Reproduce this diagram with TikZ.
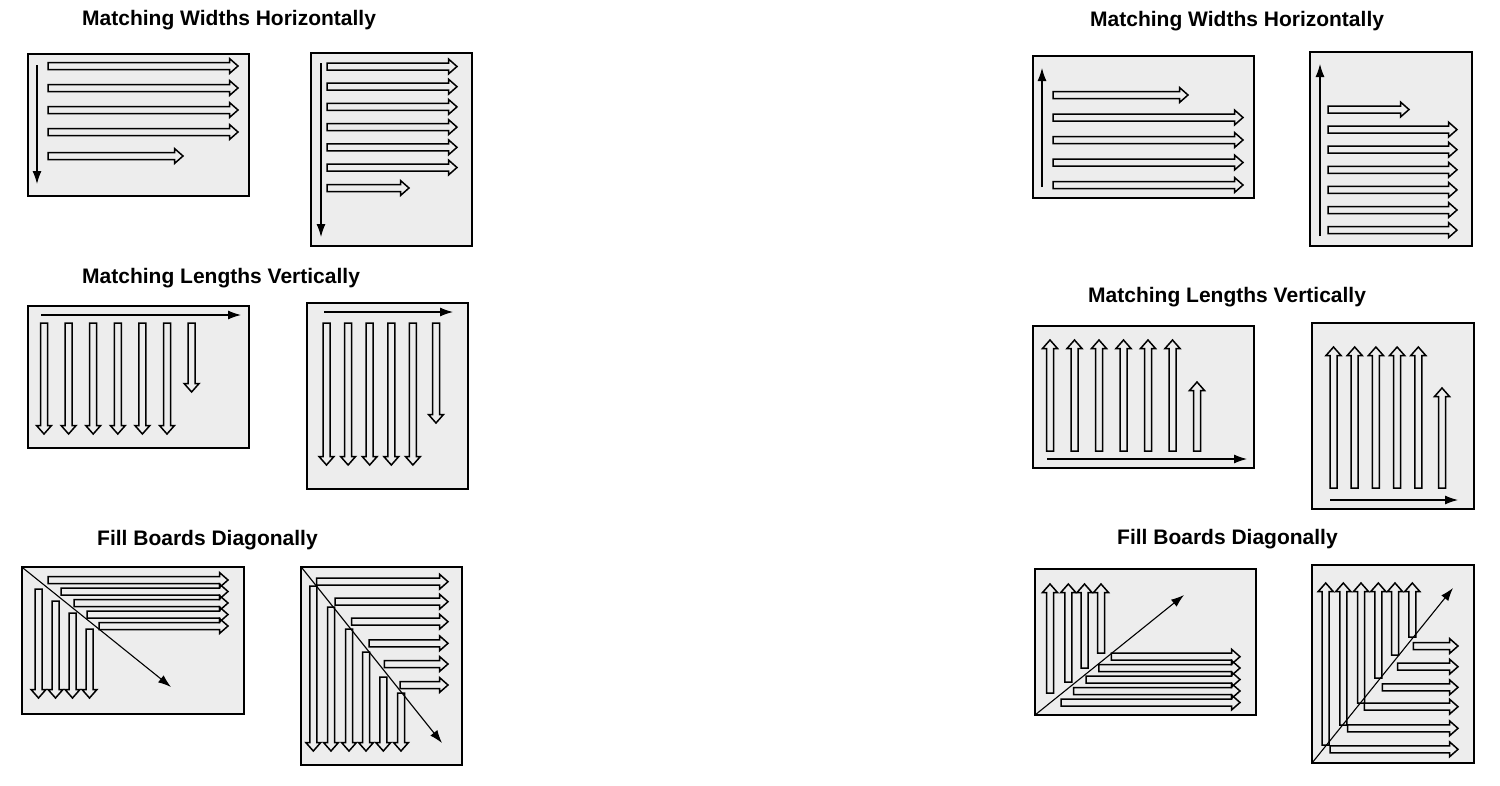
\documentclass[tikz,border=0pt]{standalone}
\usepackage{fontspec}
\setmainfont{Liberation Sans}
\usepackage{tikz}
\usetikzlibrary{arrows.meta}
\definecolor{boardbg}{gray}{0.93}
\tikzset{
  frame/.style={draw=black,line width=1.3pt,fill=boardbg},
  board/.style={draw=black,line width=1.5pt,line join=miter},
  layout/.style={draw=black,line width=1.1pt,-{Latex[length=13pt,width=9pt]}},
  title/.style={font=\bfseries\fontsize{21}{25}\selectfont,anchor=west,inner sep=0pt}
}
% boards: start/center, row/column, tip
\newcommand\boardR[3]{\draw[board] (#1,#2-3.5) -- (#3-8.5,#2-3.5) -- (#3-8.5,#2-7.5) -- (#3,#2) -- (#3-8.5,#2+7.5) -- (#3-8.5,#2+3.5) -- (#1,#2+3.5) -- cycle;}
\newcommand\boardD[3]{\draw[board] (#1-3.5,#2) -- (#1-3.5,#3-8.5) -- (#1-7.5,#3-8.5) -- (#1,#3) -- (#1+7.5,#3-8.5) -- (#1+3.5,#3-8.5) -- (#1+3.5,#2) -- cycle;}
\newcommand\boardU[3]{\draw[board] (#1-3.5,#2) -- (#1-3.5,#3+8.5) -- (#1-7.5,#3+8.5) -- (#1,#3) -- (#1+7.5,#3+8.5) -- (#1+3.5,#3+8.5) -- (#1+3.5,#2) -- cycle;}

\begin{document}
\begin{tikzpicture}[x=1pt,y=-1pt]
\useasboundingbox (0,0) rectangle (1500,785);

% titles
\node[title] (wL) at (82,20) {Matching Widths Horizontally};
\node[title] (lL) at (82,278) {Matching Lengths Vertically};
\node[title] (dL) at (97,540) {Fill Boards Diagonally};
\node[title] (wR) at (1090,21) {Matching Widths Horizontally};
\node[title] (lR) at (1088,297) {Matching Lengths Vertically};
\node[title] (dR) at (1117,539) {Fill Boards Diagonally};

% widths, top down
\draw[frame] (28,54) rectangle (249,196);
\draw[layout] (37,65) -- (37,184);
\foreach \k in {0,...,3} {\boardR{48}{66+22*\k}{238}}
\boardR{48}{156}{183}

\draw[frame] (311,53) rectangle (472,246);
\draw[layout] (321,63) -- (321,237);
\foreach \k in {0,...,5} {\boardR{327}{66.5+20.2*\k}{457}}
\boardR{327}{188}{409}

% lengths, left to right
\draw[frame] (28,306) rectangle (249,448);
\draw[layout] (41,315) -- (241,315);
\foreach \k in {0,...,5} {\boardD{44+24.6*\k}{323}{434}}
\boardD{191.6}{323}{392}

\draw[frame] (307,303) rectangle (468,489);
\draw[layout] (324,312) -- (453,312);
\foreach \k in {0,...,4} {\boardD{326.5+21.6*\k}{323}{465}}
\boardD{436}{323}{423}

% diagonal
\draw[frame] (22,567) rectangle (244,714);
\foreach \x/\t in {38.5/589,55.5/601,72.5/613,89.5/629} {\boardD{\x}{\t}{698}}
\foreach \s/\y in {48/580,61/591.5,74/603,87/614.5,99/626} {\boardR{\s}{\y}{228}}
\draw[layout] (23,568) -- (171,687);

\draw[frame] (301,567) rectangle (462,765);
\foreach \x/\t in {313.3/586,331/607,349/629,366/652,383.3/677,401/693} {\boardD{\x}{\t}{751}}
\foreach \s/\y in {316.7/581.7,335/601.7,351.7/621.7,369/643.3,384.3/664,400/685} {\boardR{\s}{\y}{448}}
\draw[layout] (302,568) -- (442,743);

% widths, bottom up
\draw[frame] (1033,56) rectangle (1254,198);
\draw[layout] (1042,187) -- (1042,68);
\boardR{1053}{95}{1188}
\foreach \k in {1,...,4} {\boardR{1053}{95+22.5*\k}{1243}}

\draw[frame] (1310,52) rectangle (1472,246);
\draw[layout] (1320,236) -- (1320,64);
\boardR{1328}{109.5}{1409}
\foreach \k in {1,...,6} {\boardR{1328}{109.5+20.1*\k}{1457}}

% lengths, upward
\draw[frame] (1033,326) rectangle (1254,468);
\draw[layout] (1047,459) -- (1247,459);
\foreach \k in {0,...,5} {\boardU{1050+24.5*\k}{451}{340}}
\boardU{1197}{451}{382}

\draw[frame] (1312,323) rectangle (1474,509);
\draw[layout] (1330,500) -- (1458,500);
\foreach \k in {0,...,4} {\boardU{1333.5+21.2*\k}{488}{347}}
\boardU{1442}{488}{388}

% diagonal, from bottom left
\draw[frame] (1035,569) rectangle (1256,715);
\foreach \x/\b in {1050/693,1068.3/682,1084.5/668,1101/653} {\boardU{\x}{\b}{584}}
\foreach \s/\y in {1111.4/656.7,1098.8/668,1086.2/679.5,1073.6/691,1061/702.5} {\boardR{\s}{\y}{1240}}
\draw[layout] (1035,715) -- (1184,595);

\draw[frame] (1312,565) rectangle (1474,763);
\foreach \x/\b in {1325.7/745,1343.3/725,1361/703,1378.3/678,1395/655,1412.3/637} {\boardU{\x}{\b}{583}}
\foreach \s/\y in {1413.3/646,1397.7/666.7,1382.3/687.3,1364.3/706.7,1347.7/728.3,1330/749.3} {\boardR{\s}{\y}{1458}}
\draw[layout] (1312,763) -- (1453,588);
\end{tikzpicture}
\end{document}
